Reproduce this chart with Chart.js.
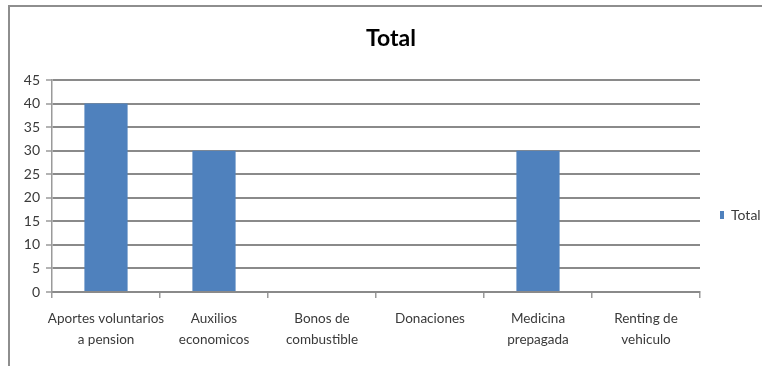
<!DOCTYPE html>
<html>
<head>
<meta charset="utf-8">
<title>Total</title>
<script src="https://cdn.jsdelivr.net/npm/chart.js@4.4.1/dist/chart.umd.min.js"></script>
<style>
    html, body { margin: 0; padding: 0; background: #fff; overflow: hidden; }
    #wrap { position: relative; width: 762px; height: 366px; }
    /* marco del grafico (solo se ven los bordes superior e izquierdo) */
    #frame { position: absolute; left: 8px; top: 5px; width: 900px; height: 500px;
             border-left: 2px solid #8e8e8e; border-top: 2px solid #8e8e8e; }
    #chart { position: absolute; left: 0; top: 0; }
</style>
</head>
<body>
<div id="wrap">
    <div id="frame"></div>
    <canvas id="chart" width="762" height="366"></canvas>
</div>
<script>
// --- datos ---
const categories = [
    ['Aportes voluntarios', 'a pension'],
    ['Auxilios', 'economicos'],
    ['Bonos de', 'combustible'],
    ['Donaciones'],
    ['Medicina', 'prepagada'],
    ['Renting de', 'vehiculo']
];
const totals = [40, 30, 0, 0, 30, 0];
const seriesName = 'Total';
const yMax = 45;
const yStep = 5;

const FONT = "Lato, 'Liberation Sans', sans-serif";
const GRID = '#8a8a8a';
const AXIS = '#9a9a9a';
const TEXT = '#3a3a3a';

new Chart(document.getElementById('chart'), {
    type: 'bar',
    data: {
        labels: categories,
        datasets: [{
            label: seriesName,
            data: totals,
            backgroundColor: '#4f81bd',
            borderWidth: 0,
            barPercentage: 0.4,
            categoryPercentage: 1
        }]
    },
    options: {
        responsive: false,
        animation: false,
        // el margen izquierdo centra el titulo un poco a la derecha
        layout: { padding: { left: 20, right: 0, top: 0, bottom: 0 } },
        plugins: {
            title: {
                display: true,
                text: 'Total',
                color: '#000',
                font: { family: FONT, size: 23, weight: 'bold', lineHeight: 1.2 },
                padding: { top: 25, bottom: 27.4 }
            },
            legend: {
                position: 'right',
                maxWidth: 62,
                // titulo vacio para bajar la leyenda al centro de las barras
                title: { display: true, text: '', font: { size: 10, lineHeight: 1 }, padding: { top: 54, bottom: 0 } },
                labels: {
                    boxWidth: 4,
                    boxHeight: 8,
                    padding: 20,
                    color: TEXT,
                    font: { family: FONT, size: 14 }
                }
            },
            tooltip: { enabled: false }
        },
        scales: {
            x: {
                afterFit: (scale) => { scale.height = 74; },
                grid: {
                    drawOnChartArea: false,
                    offset: true,
                    drawTicks: true,
                    tickLength: 6,
                    color: AXIS,
                    lineWidth: 1.5
                },
                border: { display: true, color: GRID, width: 2 },
                ticks: {
                    color: TEXT,
                    padding: 10,
                    maxRotation: 0,
                    autoSkip: false,
                    font: { family: FONT, size: 13.5, lineHeight: 1.55 }
                }
            },
            y: {
                min: 0,
                max: yMax,
                afterFit: (scale) => { scale.width = 32; },
                grid: {
                    color: GRID,
                    lineWidth: 2,
                    drawTicks: true,
                    tickLength: 6,
                    tickColor: AXIS,
                    tickWidth: 1.5
                },
                border: { display: true, color: AXIS, width: 1.5 },
                ticks: {
                    stepSize: yStep,
                    color: TEXT,
                    padding: 6,
                    font: { family: FONT, size: 14 }
                }
            }
        }
    }
});
</script>
</body>
</html>
